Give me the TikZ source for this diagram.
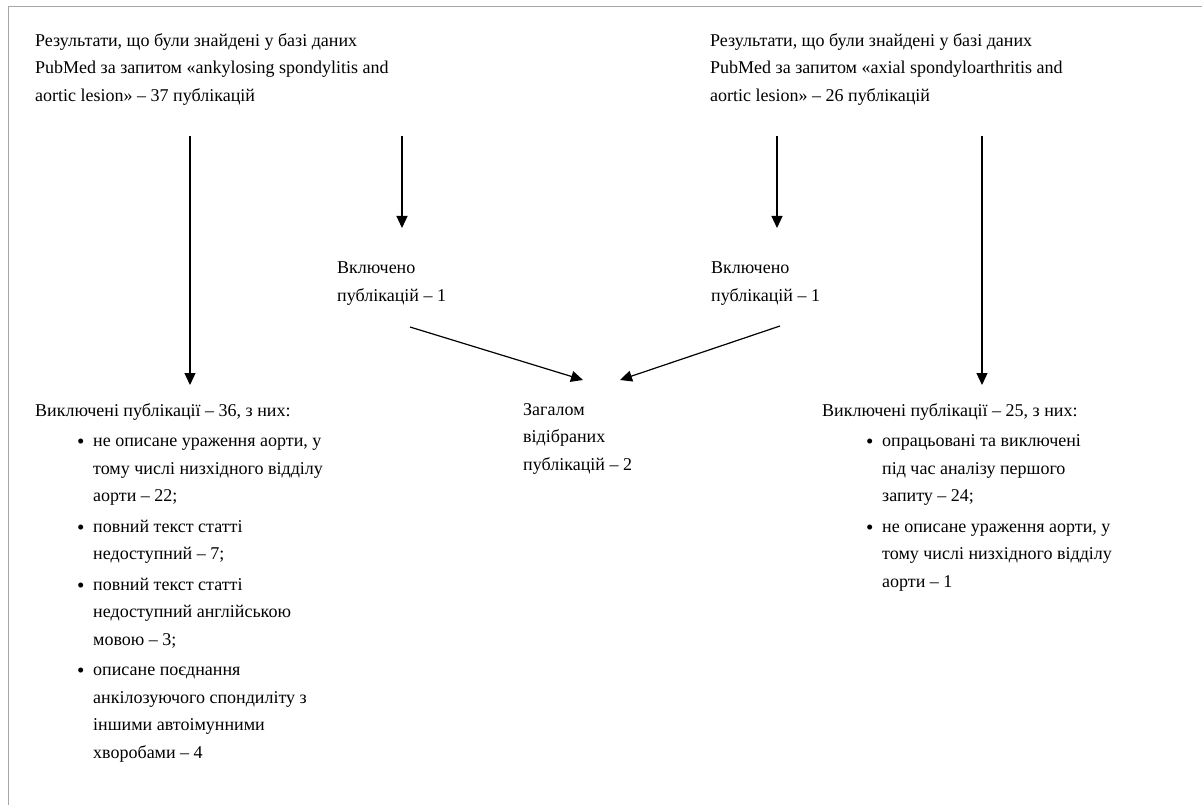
\documentclass[tikz,border=0pt]{standalone}
\usepackage{fontspec}
\setmainfont{Liberation Serif}
\usetikzlibrary{arrows.meta}
\newcommand{\bul}{\makebox[16pt][l]{\raisebox{-2pt}{\fontsize{21}{21}\selectfont\textbullet}}}
\newcommand{\ind}{\hspace*{16pt}}
\begin{document}
\begin{tikzpicture}[x=1pt,y=-1pt,
  txt/.style={anchor=north west,inner sep=0pt,align=left,font=\fontsize{18}{27.5}\selectfont},
  arr/.style={line width=1.2pt,-{Triangle[length=12pt,width=11pt]}},
  frame/.style={draw=gray!70,line width=1pt}]
\useasboundingbox (0,0) rectangle (1202,805);
\draw[frame] (8,805) -- (8,7) -- (1202,7);
% top texts
\node[txt] (q1) at (35,33) {Результати, що були знайдені у базі даних\\PubMed за запитом «ankylosing spondylitis and\\aortic lesion» – 37 публікацій};
\node[txt] (q2) at (710,33) {Результати, що були знайдені у базі даних\\PubMed за запитом «axial spondyloarthritis and\\aortic lesion» – 26 публікацій};
% included
\node[txt] (inc1) at (337,262) {Включено\\публікацій – 1};
\node[txt] (inc2) at (711,262) {Включено\\публікацій – 1};
% total
\node[txt] (tot) at (523,403) {Загалом\\відібраних\\публікацій – 2};
% excluded left
\node[txt] (exc1) at (35,403) {Виключені публікації – 36, з них:\\[3pt]
\hspace*{42pt}\bul не описане ураження аорти, у\\
\hspace*{42pt}\ind тому числі низхідного відділу\\
\hspace*{42pt}\ind аорти – 22;\\[3pt]
\hspace*{42pt}\bul повний текст статті\\
\hspace*{42pt}\ind недоступний – 7;\\[3pt]
\hspace*{42pt}\bul повний текст статті\\
\hspace*{42pt}\ind недоступний англійською\\
\hspace*{42pt}\ind мовою – 3;\\[3pt]
\hspace*{42pt}\bul описане поєднання\\
\hspace*{42pt}\ind анкілозуючого спондиліту з\\
\hspace*{42pt}\ind іншими автоімунними\\
\hspace*{42pt}\ind хворобами – 4};
% excluded right
\node[txt] (exc2) at (822,403) {Виключені публікації – 25, з них:\\[3pt]
\hspace*{44pt}\bul опрацьовані та виключені\\
\hspace*{44pt}\ind під час аналізу першого\\
\hspace*{44pt}\ind запиту – 24;\\[3pt]
\hspace*{44pt}\bul не описане ураження аорти, у\\
\hspace*{44pt}\ind тому числі низхідного відділу\\
\hspace*{44pt}\ind аорти – 1};
% arrow coordinates
\coordinate (l1s) at (190,136); \coordinate (l1e) at (190,385);
\coordinate (s1s) at (402,136); \coordinate (s1e) at (402,228);
\coordinate (s2s) at (777,136); \coordinate (s2e) at (777,228);
\coordinate (r1s) at (982,136); \coordinate (r1e) at (982,385);
\coordinate (d1s) at (410,327); \coordinate (d1e) at (583,380);
\coordinate (d2s) at (780,326); \coordinate (d2e) at (620,380);
\draw[arr] (l1s) -- (l1e);
\draw[arr] (s1s) -- (s1e);
\draw[arr] (s2s) -- (s2e);
\draw[arr] (r1s) -- (r1e);
\draw[arr] (d1s) -- (d1e);
\draw[arr] (d2s) -- (d2e);
\end{tikzpicture}
\end{document}
